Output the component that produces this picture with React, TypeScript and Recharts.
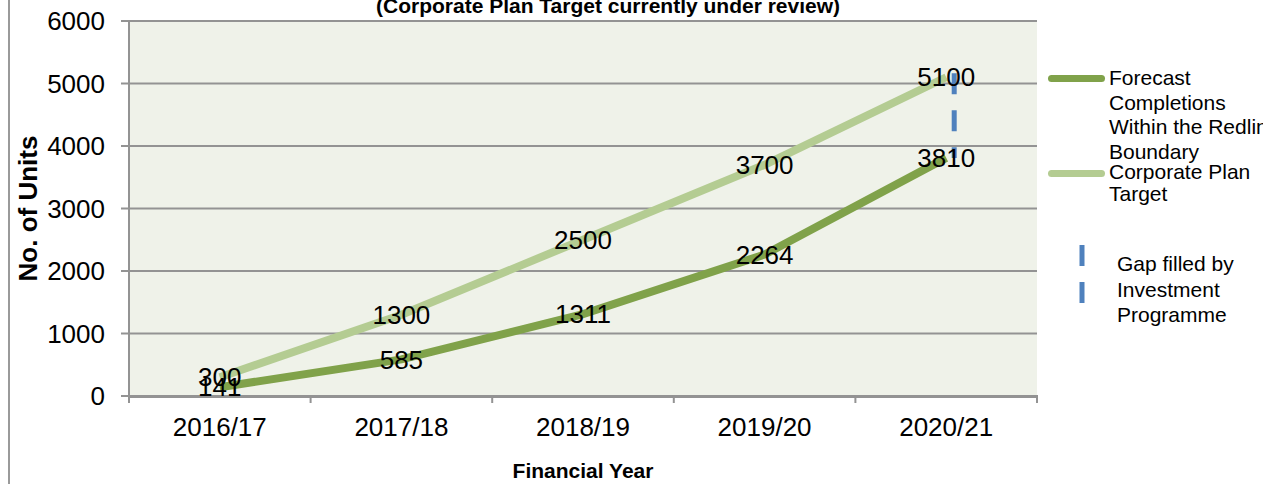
import React from "react";
import {
  CartesianGrid,
  LabelList,
  Line,
  LineChart,
  ReferenceLine,
  XAxis,
  YAxis,
} from "recharts";

const years = ["2016/17", "2017/18", "2018/19", "2019/20", "2020/21"];
const forecast = [141, 585, 1311, 2264, 3810];
const target = [300, 1300, 2500, 3700, 5100];
const yTicks = [0, 1000, 2000, 3000, 4000, 5000, 6000];
const bandEdges = [0, 1, 2, 3, 4, 5];

const seriesNames = [
  "Forecast Completions Within the Redline Boundary",
  "Corporate Plan Target",
  "Gap filled by Investment Programme",
];
const title = "(Corporate Plan Target currently under review)";

const data = years.map((year, i) => ({
  year,
  slot: i + 0.5,
  forecast: forecast[i],
  target: target[i],
}));

const font = "'Liberation Sans', Arial, sans-serif";
const darkGreen = "#80A24A";
const lightGreen = "#B4CC92";
const blue = "#4F81BD";
const gridGray = "#939393";

const last = years.length - 1;

function GapShape(props: any) {
  const { x1, y1, x2, y2 } = props;
  return (
    <line
      x1={x1 + 8}
      x2={x2 + 8}
      y1={Math.min(y1, y2) - 4}
      y2={Math.max(y1, y2)}
      stroke={blue}
      strokeWidth={5}
      strokeDasharray="21 16"
    />
  );
}

// draws only the little tick mark at each category boundary
function EdgeTick(props: any) {
  const { x, y } = props;
  return <line x1={x} x2={x} y1={y - 1} y2={y + 7} stroke={gridGray} strokeWidth={2} />;
}

function YLabel(props: any) {
  const { viewBox } = props;
  const cy = viewBox.y + viewBox.height / 2;
  return (
    <text
      x={28}
      y={cy}
      transform={`rotate(-90, 28, ${cy})`}
      textAnchor="middle"
      dominantBaseline="central"
      fontSize={26}
      fontWeight="bold"
      fill="#000"
    >
      {"No. of Units"}
    </text>
  );
}

function ChartLegend() {
  const text: React.CSSProperties = {
    fontSize: 21,
    lineHeight: "24.5px",
    color: "#000",
  };
  return (
    <div style={{ position: "absolute", left: 1048, top: 66, fontFamily: font }}>
      <div style={{ display: "flex", alignItems: "flex-start" }}>
        <div
          style={{
            width: 57,
            height: 7,
            borderRadius: 4,
            background: darkGreen,
            marginTop: 9,
            marginRight: 4,
          }}
        />
        <div style={{ ...text, width: 172 }}>{seriesNames[0]}</div>
      </div>
      <div style={{ display: "flex", alignItems: "flex-start", marginTop: -3 }}>
        <div
          style={{
            width: 57,
            height: 7,
            borderRadius: 4,
            background: lightGreen,
            marginTop: 9,
            marginRight: 4,
          }}
        />
        <div style={{ ...text, width: 172, lineHeight: "22px" }}>{seriesNames[1]}</div>
      </div>
      <div style={{ display: "flex", alignItems: "flex-start", marginTop: 46 }}>
        <svg width={60} height={64} style={{ marginTop: -6 }}>
          <line x1={34} x2={34} y1={0} y2={64} stroke={blue} strokeWidth={5} strokeDasharray="21 16" />
        </svg>
        <div style={{ ...text, width: 140, marginLeft: 9, lineHeight: "25.5px" }}>{seriesNames[2]}</div>
      </div>
    </div>
  );
}

export default function App() {
  return (
    <div
      style={{
        position: "fixed",
        left: 0,
        top: 0,
        width: 1263,
        height: 484,
        overflow: "hidden",
        background: "#fff",
        fontFamily: font,
      }}
    >
      <div
        style={{
          position: "absolute",
          left: 8,
          top: 0,
          width: 2,
          height: 484,
          background: "#9a9a9a",
        }}
      />
      <div
        style={{
          position: "absolute",
          left: 308,
          width: 600,
          top: -6,
          textAlign: "center",
          fontSize: 21,
          fontWeight: "bold",
          whiteSpace: "nowrap",
        }}
      >
        {title}
      </div>
      <LineChart
        width={1263}
        height={484}
        data={data}
        margin={{ top: 21, right: 226, bottom: 0, left: 0 }}
        style={{ fontFamily: font }}
      >
        <CartesianGrid
          xAxisId="years"
          horizontal
          vertical={false}
          fill="#EFF2E9"
          stroke={gridGray}
          strokeWidth={2}
        />
        <XAxis
          xAxisId="bands"
          dataKey="slot"
          type="number"
          domain={[0, 5]}
          allowDataOverflow
          ticks={bandEdges}
          tick={EdgeTick}
          axisLine={false}
          tickLine={false}
          tickSize={0}
          tickMargin={0}
          height={1}
        />
        <XAxis
          xAxisId="years"
          dataKey="year"
          scale="band"
          axisLine={{ stroke: gridGray, strokeWidth: 2 }}
          tickLine={false}
          tickSize={0}
          tickMargin={21}
          tick={{ fontSize: 26, fill: "#000" }}
          height={87}
          interval={0}
          label={{
            value: "Financial Year",
            position: "insideBottom",
            offset: 6,
            fontSize: 21,
            fontWeight: "bold",
            fill: "#000",
          }}
        />
        <YAxis
          domain={[0, 6000]}
          ticks={yTicks}
          width={129}
          axisLine={{ stroke: gridGray, strokeWidth: 2 }}
          tickLine={{ stroke: gridGray, strokeWidth: 2 }}
          tickSize={8}
          tickMargin={16}
          tick={{ fontSize: 26, fill: "#000" }}
          interval={0}
          label={<YLabel />}
        />
        <Line
          xAxisId="years"
          dataKey="target"
          name={seriesNames[1]}
          stroke={lightGreen}
          strokeWidth={8}
          dot={false}
          activeDot={false}
          isAnimationActive={false}
        >
          <LabelList
            dataKey="target"
            position="center"
            fontSize={26}
            fill="#000"
            isAnimationActive={false}
          />
        </Line>
        <Line
          xAxisId="years"
          dataKey="forecast"
          name={seriesNames[0]}
          stroke={darkGreen}
          strokeWidth={8}
          dot={false}
          activeDot={false}
          isAnimationActive={false}
        >
          <LabelList
            dataKey="forecast"
            position="center"
            fontSize={26}
            fill="#000"
            isAnimationActive={false}
          />
        </Line>
        <ReferenceLine
          xAxisId="years"
          segment={[
            { x: years[last], y: forecast[last] },
            { x: years[last], y: target[last] },
          ]}
          shape={GapShape}
          ifOverflow="visible"
        />
      </LineChart>
      <ChartLegend />
    </div>
  );
}
